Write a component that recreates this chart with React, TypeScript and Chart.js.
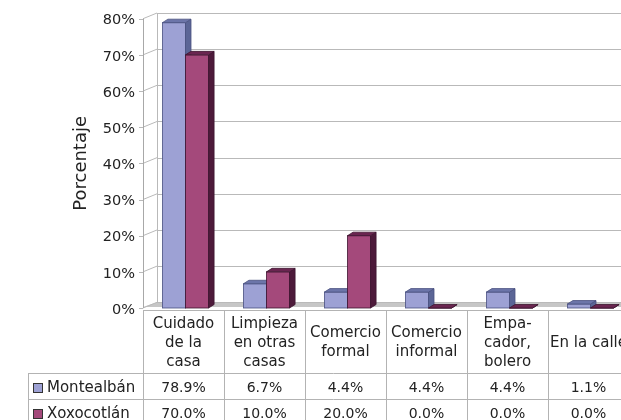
import React, { useEffect, useRef } from "react";
import { Chart, registerables } from "chart.js";

Chart.register(...registerables);

// ---- data ----
const categories: string[][] = [
  ["Cuidado", "de la", "casa"],
  ["Limpieza", "en otras", "casas"],
  ["Comercio", "formal"],
  ["Comercio", "informal"],
  ["Empa-", "cador,", "bolero"],
  ["En la calle"],
];
const seriesNames = ["Montealbán", "Xoxocotlán"];
const montealban = [78.9, 6.7, 4.4, 4.4, 4.4, 1.1];
const xoxocotlan = [70.0, 10.0, 20.0, 0.0, 0.0, 0.0];
const yTickValues = [0, 10, 20, 30, 40, 50, 60, 70, 80];
const yAxisTitle = "Porcentaje";

// ---- styles ----
const FONT = '"DejaVu Sans", "Liberation Sans", sans-serif';
const TEXT = "#222222";
const GRID = "#b9b9b9";
const TABLE_LINE = "#b3b3b3";
const seriesColors = [
  { front: "#9da1d4", side: "#5b6596", top: "#6c75a9", edge: "#4a5280" },
  { front: "#a4497b", side: "#4d1a3a", top: "#6a2550", edge: "#3e1530" },
];
const FRONT_SHIFT = 2;
const WALL_DX = 14;
const WALL_DY = -5.7;
const BAR_DX = 5.5;
const BAR_DY = -3.5;

const px = (v: number) => Math.round(v) + 0.5;

const threeDPlugin = {
  id: "threeD",
  beforeDatasetsDraw(chart: any) {
    const { ctx, chartArea: ca, scales } = chart;
    const y = scales.y;
    const fx = ca.left - FRONT_SHIFT;
    const bx = fx + WALL_DX;
    const right = ca.right + WALL_DX + 20;
    const y0 = y.getPixelForValue(0);
    ctx.save();
    // floor
    ctx.beginPath();
    ctx.moveTo(fx, y0 - 1);
    ctx.lineTo(bx, y0 + WALL_DY);
    ctx.lineTo(right, y0 + WALL_DY);
    ctx.lineTo(right, y0 - 1);
    ctx.closePath();
    ctx.fillStyle = "#c6c6c6";
    ctx.fill();
    ctx.lineWidth = 1;
    ctx.strokeStyle = GRID;
    // back wall grid lines, side wall diagonals, tick marks
    yTickValues.forEach((v) => {
      const yy = y.getPixelForValue(v);
      ctx.beginPath();
      ctx.moveTo(bx, px(yy + WALL_DY));
      ctx.lineTo(right, px(yy + WALL_DY));
      ctx.stroke();
      ctx.beginPath();
      ctx.moveTo(fx, yy);
      ctx.lineTo(bx, yy + WALL_DY);
      ctx.stroke();
      ctx.beginPath();
      ctx.moveTo(fx - 4, px(yy));
      ctx.lineTo(fx, px(yy));
      ctx.stroke();
    });
    // back wall left edge
    const yTop = y.getPixelForValue(yTickValues[yTickValues.length - 1]);
    ctx.beginPath();
    ctx.moveTo(px(bx), yTop + WALL_DY);
    ctx.lineTo(px(bx), y0 + WALL_DY);
    ctx.stroke();
    // front axis
    ctx.strokeStyle = "#a8a8a8";
    ctx.beginPath();
    ctx.moveTo(px(fx), yTop);
    ctx.lineTo(px(fx), y0);
    ctx.stroke();
    ctx.restore();
  },
  afterDatasetsDraw(chart: any) {
    const { ctx } = chart;
    ctx.save();
    chart.data.datasets.forEach((_ds: any, di: number) => {
      const meta = chart.getDatasetMeta(di);
      const c = seriesColors[di];
      meta.data.forEach((bar: any) => {
        const { x, y, base, width } = bar.getProps(["x", "y", "base", "width"], true);
        const l = x - width / 2;
        const r = x + width / 2;
        // front
        ctx.fillStyle = c.front;
        ctx.fillRect(l, y, width, base - y);
        ctx.strokeStyle = c.edge;
        ctx.lineWidth = 0.8;
        ctx.strokeRect(l, y, width, base - y);
        // side
        ctx.beginPath();
        ctx.moveTo(r, y);
        ctx.lineTo(r + BAR_DX, y + BAR_DY);
        ctx.lineTo(r + BAR_DX, base + BAR_DY);
        ctx.lineTo(r, base);
        ctx.closePath();
        ctx.fillStyle = c.side;
        ctx.fill();
        ctx.stroke();
        // top
        ctx.beginPath();
        ctx.moveTo(l, y);
        ctx.lineTo(l + BAR_DX, y + BAR_DY);
        ctx.lineTo(r + BAR_DX, y + BAR_DY);
        ctx.lineTo(r, y);
        ctx.closePath();
        ctx.fillStyle = c.top;
        ctx.fill();
        ctx.stroke();
      });
    });
    ctx.restore();
  },
  afterDraw(chart: any) {
    const { ctx, chartArea: ca, scales } = chart;
    const x = scales.x;
    const n = categories.length;
    const tableTop = ca.bottom + 2;
    const headerH = 63;
    const rowH = 26;
    const legendLeft = 28;
    const colEdge = (i: number) => x.getPixelForValue(i - 0.5) - FRONT_SHIFT;
    const tableRight = colEdge(n) + 10;
    ctx.save();
    ctx.strokeStyle = TABLE_LINE;
    ctx.lineWidth = 1;
    const hLine = (yy: number, x1: number, x2: number) => {
      ctx.beginPath();
      ctx.moveTo(x1, px(yy));
      ctx.lineTo(x2, px(yy));
      ctx.stroke();
    };
    const vLine = (xx: number, y1: number, y2: number) => {
      ctx.beginPath();
      ctx.moveTo(px(xx), y1);
      ctx.lineTo(px(xx), y2);
      ctx.stroke();
    };
    hLine(tableTop, colEdge(0), tableRight);
    hLine(tableTop + headerH, legendLeft, tableRight);
    hLine(tableTop + headerH + rowH, legendLeft, tableRight);
    hLine(tableTop + headerH + 2 * rowH, legendLeft, tableRight);
    for (let i = 0; i <= n; i++) vLine(colEdge(i), tableTop, tableTop + headerH + 2 * rowH);
    vLine(legendLeft, tableTop + headerH, tableTop + headerH + 2 * rowH);

    // category labels
    ctx.fillStyle = TEXT;
    ctx.textAlign = "center";
    ctx.textBaseline = "middle";
    ctx.font = `15px ${FONT}`;
    const lineH = 19;
    categories.forEach((lines, i) => {
      const cx = (colEdge(i) + colEdge(i + 1)) / 2;
      const cy = tableTop + headerH / 2 + 1.5;
      lines.forEach((t, k) => {
        ctx.fillText(t, cx, cy + (k - (lines.length - 1) / 2) * lineH);
      });
    });

    // data rows
    const series = [montealban, xoxocotlan];
    series.forEach((vals, si) => {
      const rowTop = tableTop + headerH + si * rowH;
      const cy = rowTop + rowH / 2 + 2;
      const c = seriesColors[si];
      ctx.fillStyle = c.front;
      ctx.fillRect(33, cy - 5, 10, 10);
      ctx.strokeStyle = "#333";
      ctx.lineWidth = 1;
      ctx.strokeRect(33.5, Math.round(cy - 5) + 0.5, 9, 9);
      ctx.fillStyle = TEXT;
      ctx.textAlign = "left";
      ctx.font = `15px ${FONT}`;
      ctx.fillText(seriesNames[si], 47, cy);
      ctx.textAlign = "center";
      ctx.font = `14px ${FONT}`;
      vals.forEach((v, i) => {
        const cx = (colEdge(i) + colEdge(i + 1)) / 2;
        ctx.fillText(v.toFixed(1) + "%", cx, cy);
      });
    });
    ctx.restore();
  },
};

export default function App() {
  const ref = useRef<HTMLCanvasElement | null>(null);
  useEffect(() => {
    if (!ref.current) return;
    const chart = new Chart(ref.current, {
      type: "bar",
      data: {
        labels: categories.map((c) => c.join(" ")),
        datasets: [
          { label: seriesNames[0], data: montealban, backgroundColor: "rgba(0,0,0,0)", borderWidth: 0 },
          { label: seriesNames[1], data: xoxocotlan, backgroundColor: "rgba(0,0,0,0)", borderWidth: 0 },
        ],
      },
      options: {
        responsive: false,
        animation: false,
        devicePixelRatio: 1,
        layout: { padding: { top: 18, bottom: 112, left: 0, right: 29 } },
        datasets: { bar: { categoryPercentage: 0.57, barPercentage: 1.0 } },
        plugins: { legend: { display: false }, tooltip: { enabled: false } },
        scales: {
          x: { display: false, grid: { display: false } },
          y: {
            min: 0,
            max: 80,
            afterFit: (s: any) => {
              s.width = 145;
            },
            grid: { display: false, drawTicks: false },
            border: { display: false },
            ticks: {
              stepSize: 10,
              padding: 10,
              labelOffset: 2,
              color: TEXT,
              font: { family: FONT, size: 14.5 },
              callback: (v: any) => v + "%",
            },
            title: {
              display: true,
              text: yAxisTitle,
              color: TEXT,
              font: { family: FONT, size: 18 },
              padding: { top: 71, bottom: 0 },
            },
          },
        },
      },
      plugins: [threeDPlugin],
    });
    return () => chart.destroy();
  }, []);
  return (
    <div
      style={{
        position: "fixed",
        left: 0,
        top: 0,
        width: 621,
        height: 420,
        overflow: "hidden",
        background: "#fff",
      }}
    >
      <canvas ref={ref} width={660} height={420} style={{ display: "block" }} />
    </div>
  );
}
